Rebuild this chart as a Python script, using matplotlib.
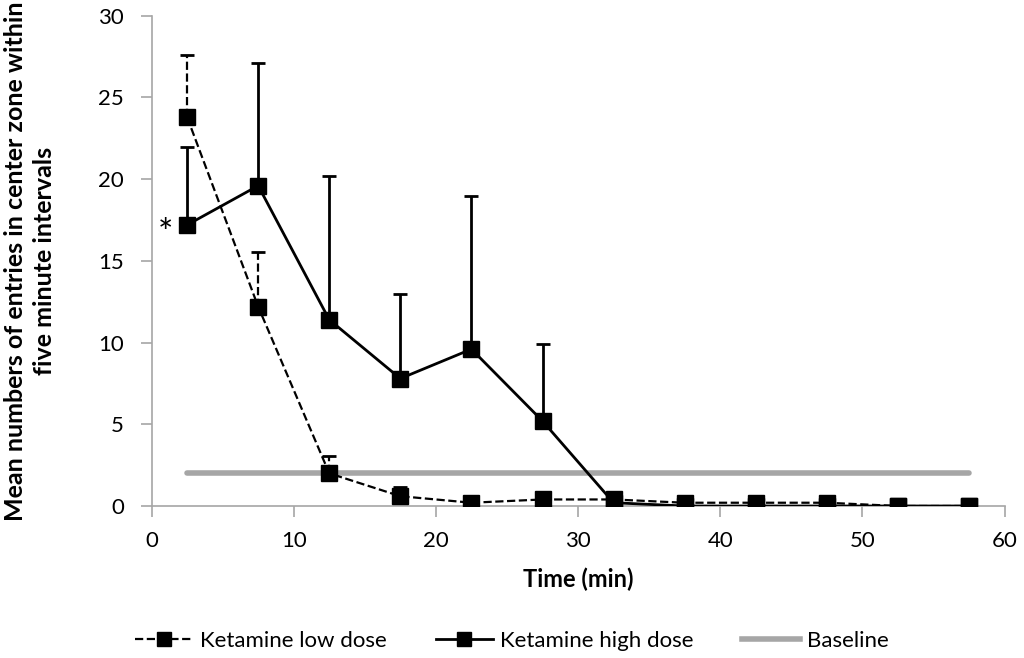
import numpy as np
import matplotlib.pyplot as plt
from matplotlib.lines import Line2D

plt.rcParams['font.family'] = ['Lato', 'DejaVu Sans']

# ----------------------------------
# Data
# ----------------------------------
time_min = [2.5, 7.5, 12.5, 17.5, 22.5, 27.5, 32.5, 37.5, 42.5, 47.5, 52.5, 57.5]

low_mean = [23.8, 12.2, 2.0, 0.6, 0.2, 0.4, 0.4, 0.2, 0.2, 0.2, 0.0, 0.0]
low_err = [3.8, 3.35, 1.05, 0.55, 0.0, 0.0, 0.0, 0.0, 0.0, 0.0, 0.0, 0.0]

high_mean = [17.2, 19.6, 11.4, 7.8, 9.6, 5.2, 0.2, 0.0, 0.0, 0.0, 0.0, 0.0]
high_err = [4.8, 7.5, 8.8, 5.2, 9.4, 4.7, 0.0, 0.0, 0.0, 0.0, 0.0, 0.0]

baseline_x = [2.5, 57.5]
baseline_y = [2.0, 2.0]

# ----------------------------------
# Plot
# ----------------------------------
fig = plt.figure(figsize=(10.24, 6.58), dpi=100)
ax = fig.add_axes([0.148, 0.231, 0.833, 0.745])

ax.plot(baseline_x, baseline_y, color="#a6a6a6", lw=4, solid_capstyle="round",
        zorder=1)

lo = np.zeros(len(time_min))
eb_low = ax.errorbar(time_min, low_mean, yerr=[lo, low_err], color="black",
                     ls="--", lw=1.6, marker="s", ms=11, capsize=5, capthick=2,
                     elinewidth=1.6, zorder=3)
eb_low[2][0].set_linestyle("--")

ax.errorbar(time_min, high_mean, yerr=[lo, high_err], color="black",
            ls="-", lw=2, marker="s", ms=11, capsize=5, capthick=2,
            elinewidth=2, zorder=3)

# significance mark
ax.text(1.0, 16.6, "*", fontsize=26, ha="center", va="center")

ax.set_xlim(0, 60)
ax.set_ylim(0, 30)
ax.set_xticks(np.arange(0, 61, 10))
ax.set_yticks(np.arange(0, 31, 5))

for side in ["top", "right"]:
    ax.spines[side].set_visible(False)
for side in ["left", "bottom"]:
    ax.spines[side].set_color("#a6a6a6")
    ax.spines[side].set_linewidth(1.2)
ax.tick_params(axis="both", direction="out", length=8, color="#a6a6a6",
               labelsize=16, width=1.2)
ax.tick_params(axis="y", pad=12)
ax.tick_params(axis="x", pad=10)

ax.set_xlabel("Time (min)", fontsize=17, fontweight="bold")
ax.xaxis.set_label_coords(0.5, -0.125)
ax.set_ylabel("Mean numbers of entries in center zone within\nfive minute intervals",
              fontsize=18, fontweight="bold", linespacing=1.3)
ax.yaxis.set_label_coords(-0.112, 0.5)

# Legend (bottom, simple line+marker handles)
handles = [
    Line2D([], [], color="black", ls="--", lw=1.6, marker="s", ms=10),
    Line2D([], [], color="black", ls="-", lw=2, marker="s", ms=10),
    Line2D([], [], color="#a6a6a6", lw=4),
]
fig.legend(handles, ["Ketamine low dose", "Ketamine high dose", "Baseline"],
           loc="center", bbox_to_anchor=(0.5, 0.026), ncol=3,
           frameon=False, fontsize=16, columnspacing=2.2, handlelength=2.6,
           handletextpad=0.3)

plt.savefig("out.png", dpi=100)
